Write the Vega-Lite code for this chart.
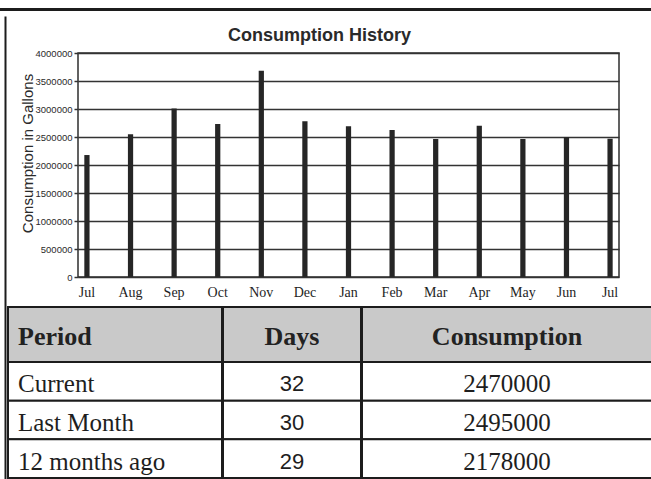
{
  "$schema": "https://vega.github.io/schema/vega-lite/v6.json",
  "padding": {"top": 3, "left": 0, "right": 0, "bottom": 0},
  "background": "white",
  "config": {"view": {"stroke": null}},
  "datasets": {
    "hist": [
      {"month": "2004-07-15", "gallons": 2178000},
      {"month": "2004-08-15", "gallons": 2550000},
      {"month": "2004-09-15", "gallons": 3010000},
      {"month": "2004-10-15", "gallons": 2730000},
      {"month": "2004-11-15", "gallons": 3685000},
      {"month": "2004-12-15", "gallons": 2780000},
      {"month": "2005-01-15", "gallons": 2690000},
      {"month": "2005-02-15", "gallons": 2625000},
      {"month": "2005-03-15", "gallons": 2465000},
      {"month": "2005-04-15", "gallons": 2700000},
      {"month": "2005-05-15", "gallons": 2465000},
      {"month": "2005-06-15", "gallons": 2495000},
      {"month": "2005-07-15", "gallons": 2470000}
    ],
    "tbl": [
      {"period": "Current", "days": 32, "consumption": 2470000},
      {"period": "Last Month", "days": 30, "consumption": 2495000},
      {"period": "12 months ago", "days": 29, "consumption": 2178000}
    ],
    "blank": [{"v": 0}]
  },
  "spacing": 0,
  "vconcat": [
    {"width": 651, "height": 3, "data": {"name": "blank"}, "view": {"fill": "#1c1c1c", "stroke": null}, "mark": {"type": "text"}, "encoding": {"text": {"value": ""}}},
    {
      "spacing": 0,
      "hconcat": [
        {"width": 7, "height": 473, "data": {"name": "blank"}, "mark": {"type": "text"}, "encoding": {"text": {"value": ""}, "y": {"field": "v", "type": "quantitative", "axis": {"orient": "right", "offset": -2, "labels": false, "ticks": false, "grid": false, "title": null, "domainColor": "#1c1c1c", "domainWidth": 2}}}},
        {
          "spacing": 0,
          "vconcat": [
            {"width": 10, "height": 10, "data": {"name": "blank"}, "mark": {"type": "text"}, "encoding": {"text": {"value": ""}}},
            {
              "bounds": "flush",
              "spacing": 0,
              "hconcat": [
                {"width": 70, "height": 253, "data": {"name": "blank"}, "mark": {"type": "text"}, "encoding": {"text": {"value": ""}}},
                {
                  "width": 541, "height": 224,
                  "data": {"name": "hist"},
                  "title": {"text": "Consumption History", "anchor": "middle", "frame": "bounds", "font": "Liberation Sans", "fontSize": 18, "fontWeight": "bold", "color": "#2a2a2a", "offset": 3},
                  "view": {"stroke": "#2e2e2e", "strokeWidth": 1.5},
                  "mark": {"type": "bar", "color": "#262626"},
                  "encoding": {
                    "x": {
                      "field": "month", "timeUnit": "yearmonth", "type": "ordinal",
                      "scale": {"paddingInner": 0.88, "paddingOuter": 0.145},
                      "axis": {"format": "%b", "labelAngle": 0, "labelFont": "Liberation Serif", "labelFontSize": 14, "labelColor": "#1e1e1e", "ticks": false, "domain": false, "labelPadding": 8, "title": null}
                    },
                    "y": {
                      "field": "gallons", "type": "quantitative",
                      "scale": {"domain": [0, 4000000]},
                      "axis": {
                        "values": [0, 500000, 1000000, 1500000, 2000000, 2500000, 3000000, 3500000, 4000000],
                        "format": "d", "grid": true, "gridColor": "#333333", "gridWidth": 1.5, "gridOpacity": 1,
                        "domain": false, "ticks": true, "tickSize": 4, "tickColor": "#333333", "tickWidth": 1.5,
                        "labelFont": "Liberation Sans", "labelFontSize": 9.5, "labelColor": "#2a2a2a", "labelPadding": 2,
                        "title": "Consumption in Gallons", "titleFont": "Liberation Sans", "titleFontSize": 15, "titleFontWeight": "normal", "titleColor": "#2a2a2a", "titlePadding": 0, "titleY": 100
                      }
                    }
                  }
                }
              ]
            },
            {
              "spacing": -2,
              "hconcat": [
                {
                  "bounds": "flush",
                  "spacing": 0,
                  "vconcat": [
                    {
                      "width": 214, "height": 55,
                      "data": {"values": [{"h": "Period"}]},
                      "view": {"fill": "#c9c9c9", "stroke": "#1c1c1c", "strokeWidth": 2},
                      "mark": {"type": "text", "align": "left", "dx": 10, "dy": 2, "font": "Liberation Serif", "fontWeight": "bold", "fontSize": 26, "color": "#222222"},
                      "encoding": {
                        "text": {"field": "h"},
                        "x": {"datum": 0, "type": "quantitative", "scale": {"domain": [0, 1]}, "axis": null}
                      }
                    },
                    {
                      "width": 214, "height": 116,
                      "data": {"name": "tbl"},
                      "encoding": {"y": {"field": "period", "type": "nominal", "sort": null, "scale": {"paddingInner": 0, "paddingOuter": 0}, "axis": null}},
                      "layer": [
                        {
                          "mark": {"type": "rect", "fill": "white", "stroke": "#1c1c1c", "strokeWidth": 2},
                          "encoding": {
                            "x": {"datum": 0, "type": "quantitative", "scale": {"domain": [0, 1]}, "axis": null},
                            "x2": {"datum": 1}
                          }
                        },
                        {
                          "mark": {"type": "text", "align": "left", "dx": 10, "dy": 3, "font": "Liberation Serif", "fontSize": 25, "color": "#1e1e1e"},
                          "encoding": {
                            "text": {"field": "period"},
                            "x": {"datum": 0, "type": "quantitative", "scale": {"domain": [0, 1]}, "axis": null}
                          }
                        }
                      ]
                    }
                  ]
                },
                {
                  "bounds": "flush",
                  "spacing": 0,
                  "vconcat": [
                    {
                      "width": 138, "height": 55,
                      "data": {"values": [{"h": "Days"}]},
                      "view": {"fill": "#c9c9c9", "stroke": "#1c1c1c", "strokeWidth": 2},
                      "mark": {"type": "text", "dy": 2, "font": "Liberation Serif", "fontWeight": "bold", "fontSize": 26, "color": "#222222"},
                      "encoding": {
                        "text": {"field": "h"},
                        "x": {"datum": 0.5, "type": "quantitative", "scale": {"domain": [0, 1]}, "axis": null}
                      }
                    },
                    {
                      "width": 138, "height": 116,
                      "data": {"name": "tbl"},
                      "encoding": {"y": {"field": "period", "type": "nominal", "sort": null, "scale": {"paddingInner": 0, "paddingOuter": 0}, "axis": null}},
                      "layer": [
                        {
                          "mark": {"type": "rect", "fill": "white", "stroke": "#1c1c1c", "strokeWidth": 2},
                          "encoding": {
                            "x": {"datum": 0, "type": "quantitative", "scale": {"domain": [0, 1]}, "axis": null},
                            "x2": {"datum": 1}
                          }
                        },
                        {
                          "mark": {"type": "text", "dy": 3, "font": "Liberation Sans", "fontSize": 22, "color": "#1e1e1e"},
                          "encoding": {
                            "text": {"field": "days"},
                            "x": {"datum": 0.5, "type": "quantitative", "scale": {"domain": [0, 1]}, "axis": null}
                          }
                        }
                      ]
                    }
                  ]
                },
                {
                  "bounds": "flush",
                  "spacing": 0,
                  "vconcat": [
                    {
                      "width": 290, "height": 55,
                      "data": {"values": [{"h": "Consumption"}]},
                      "view": {"fill": "#c9c9c9", "stroke": "#1c1c1c", "strokeWidth": 2},
                      "mark": {"type": "text", "dy": 2, "font": "Liberation Serif", "fontWeight": "bold", "fontSize": 26, "color": "#222222"},
                      "encoding": {
                        "text": {"field": "h"},
                        "x": {"datum": 0.5, "type": "quantitative", "scale": {"domain": [0, 1]}, "axis": null}
                      }
                    },
                    {
                      "width": 290, "height": 116,
                      "data": {"name": "tbl"},
                      "encoding": {"y": {"field": "period", "type": "nominal", "sort": null, "scale": {"paddingInner": 0, "paddingOuter": 0}, "axis": null}},
                      "layer": [
                        {
                          "mark": {"type": "rect", "fill": "white", "stroke": "#1c1c1c", "strokeWidth": 2},
                          "encoding": {
                            "x": {"datum": 0, "type": "quantitative", "scale": {"domain": [0, 1]}, "axis": null},
                            "x2": {"datum": 1}
                          }
                        },
                        {
                          "mark": {"type": "text", "dy": 3, "font": "Liberation Serif", "fontSize": 25, "color": "#1e1e1e"},
                          "encoding": {
                            "text": {"field": "consumption", "format": "d"},
                            "x": {"datum": 0.5, "type": "quantitative", "scale": {"domain": [0, 1]}, "axis": null}
                          }
                        }
                      ]
                    }
                  ]
                }
              ]
            }
          ]
        }
      ]
    }
  ]
}
